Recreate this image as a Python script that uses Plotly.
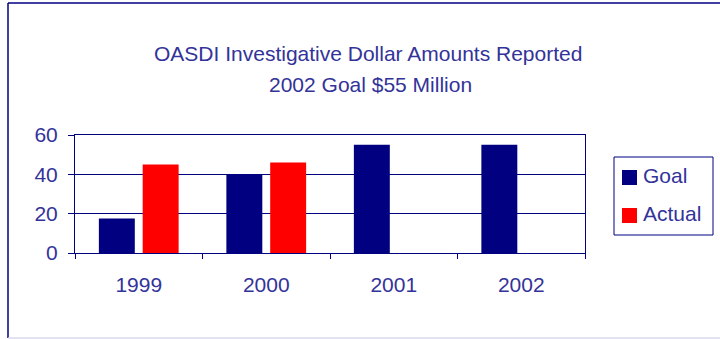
import plotly.graph_objects as go

years = ["1999", "2000", "2001", "2002"]
goal = [17.5, 40, 55, 55]
actual = [45, 46, None, None]
series_names = ["Goal", "Actual"]

NAVY = "#000080"
RED = "#FF0000"
TXT = "#333399"
FONT = "Liberation Sans, Arial, sans-serif"
FS = 21

L, R, T, B = 75, 135, 135, 86
W, H = 720, 339
pw = W - L - R
ph = H - T - B

def px(x):
    return (x - L) / pw

def py(y):
    return (H - B - y) / ph

colors = [NAVY, RED]

fig = go.Figure()
fig.add_trace(go.Bar(x=years, y=goal, name=series_names[0], marker=dict(color=NAVY, line=dict(width=0)), showlegend=False))
fig.add_trace(go.Bar(x=years, y=actual, name=series_names[1], marker=dict(color=RED, line=dict(width=0)), showlegend=False))

annotations = [
    dict(text="OASDI Investigative Dollar Amounts Reported", xref="paper", yref="paper",
         x=px(368), y=py(53), xanchor="center", yanchor="middle", showarrow=False,
         font=dict(size=FS, color=TXT)),
    dict(text="2002 Goal $55 Million", xref="paper", yref="paper",
         x=px(370), y=py(84), xanchor="center", yanchor="middle", showarrow=False,
         font=dict(size=FS, color=TXT)),
]
shapes = [
    dict(type="line", xref="paper", yref="paper", x0=px(8), x1=px(8), y0=py(3), y1=py(338),
         line=dict(color=NAVY, width=1.5)),
    dict(type="line", xref="paper", yref="paper", x0=px(8), x1=px(725), y0=py(3), y1=py(3),
         line=dict(color=NAVY, width=1.5)),
    dict(type="line", xref="paper", yref="paper", x0=px(8), x1=px(725), y0=py(338), y1=py(338),
         line=dict(color="#D8D8F0", width=1.5)),
    # legend box
    dict(type="rect", xref="paper", yref="paper", x0=px(614), x1=px(713), y0=py(157), y1=py(235),
         line=dict(color=NAVY, width=1), fillcolor="white"),
]
leg_y = [175, 213]
for name, col, yc in zip(series_names, colors, leg_y):
    shapes.append(dict(type="rect", xref="paper", yref="paper", x0=px(622), x1=px(637),
                       y0=py(yc - 5), y1=py(yc + 10), line=dict(width=0), fillcolor=col))
    annotations.append(dict(text=name, xref="paper", yref="paper", x=px(641), y=py(yc),
                            xanchor="left", yanchor="middle", showarrow=False,
                            font=dict(size=FS, color=TXT)))

fig.update_layout(
    width=W, height=H,
    margin=dict(l=L, r=R, t=T, b=B, autoexpand=False),
    paper_bgcolor="white", plot_bgcolor="white",
    barmode="group", bargap=0.3125, bargroupgap=0.18,
    font=dict(family=FONT, color=TXT, size=FS),
    showlegend=False,
    xaxis=dict(type="category", showline=True, linecolor=NAVY, linewidth=1, mirror=True,
               ticks="outside", tickson="boundaries", ticklen=5, tickcolor=NAVY,
               showgrid=False, ticklabelstandoff=13),
    yaxis=dict(range=[0, 60], tickvals=[0, 20, 40, 60], showline=True, linecolor=NAVY, linewidth=1,
               mirror=True, ticks="outside", ticklen=6, tickcolor=NAVY, ticklabelstandoff=6,
               showgrid=True, gridcolor=NAVY, gridwidth=1, zeroline=False),
    annotations=annotations,
    shapes=shapes,
)

fig.write_html("out.html")
